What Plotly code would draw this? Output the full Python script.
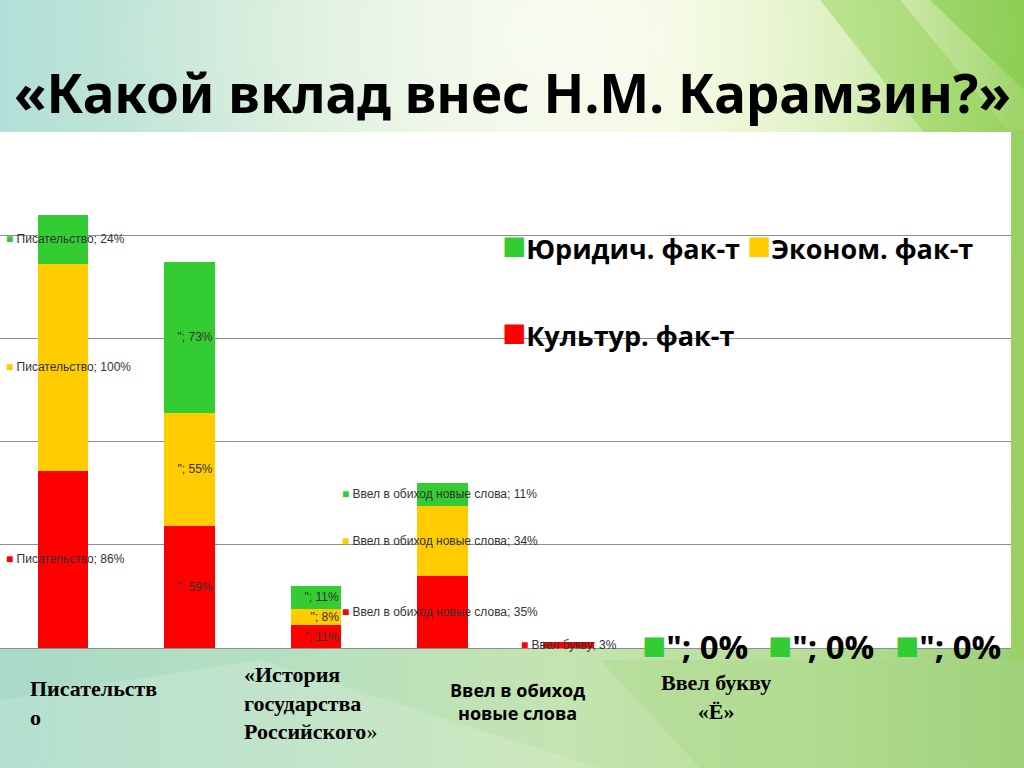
import base64
import plotly.graph_objects as go

# ---------------- data ----------------
categories = ["Писательство", "«История государства Российского»",
              "Ввел в обиход новые слова", "Ввел букву «Ё»", "", "", "", ""]
label_names = ["Писательство", '"', '"', "Ввел в обиход новые слова",
               "Ввел букву", '"', '"', '"']
cultural = [86, 59, 11, 35, 3, 0, 0, 0]     # Культур. фак-т
economic = [100, 55, 8, 34, 0, 0, 0, 0]     # Эконом. фак-т
legal = [24, 73, 11, 11, 0, 0, 0, 0]        # Юридич. фак-т
series_names = ["Культур. фак-т", "Эконом. фак-т", "Юридич. фак-т"]
y_ticks = [0, 50, 100, 150, 200, 250]

# ---------------- styles ----------------
RED, YELLOW, GREEN = "#FF0000", "#FFCC00", "#33CC33"
colors = [RED, YELLOW, GREEN]
W, H = 1024, 768
PLOT_L, PLOT_R, PLOT_T, PLOT_B = 0, 1011, 132, 648

# label placement per category: (xanchor, pixel shift from category center)
label_place = [("left", -59), ("right", 25), ("right", 25), ("left", -102),
               ("left", -50), ("center", 0), ("center", 0), ("center", 0)]
big_zero_cats = [5, 6, 7]

# ---------------- background (slide) ----------------
svg = f"""<svg xmlns='http://www.w3.org/2000/svg' width='{W}' height='{H}' viewBox='0 0 {W} {H}'>
<defs>
<linearGradient id='g1' x1='0' y1='0' x2='1' y2='0'>
<stop offset='0' stop-color='#b2e0d8'/>
<stop offset='0.25' stop-color='#cde9d6'/>
<stop offset='0.5' stop-color='#eaf5d8'/>
<stop offset='0.65' stop-color='#eef7d2'/>
<stop offset='0.82' stop-color='#d2ecac'/>
<stop offset='1' stop-color='#9ed468'/>
</linearGradient>
<linearGradient id='g2' x1='0' y1='0' x2='1' y2='0'>
<stop offset='0' stop-color='#a8dac8'/>
<stop offset='0.3' stop-color='#b8e0c0'/>
<stop offset='0.55' stop-color='#c4e4b0'/>
<stop offset='0.8' stop-color='#b6de98'/>
<stop offset='1' stop-color='#9ccf78'/>
</linearGradient>
<radialGradient id='glow' cx='0.55' cy='0.05' r='0.45'>
<stop offset='0' stop-color='#ffffff' stop-opacity='0.65'/>
<stop offset='1' stop-color='#ffffff' stop-opacity='0'/>
</radialGradient>
</defs>
<rect width='{W}' height='{H}' fill='url(#g1)'/>
<rect y='620' width='{W}' height='148' fill='url(#g2)'/>
<rect width='{W}' height='{H}' fill='url(#glow)'/>
<polygon points='820,0 900,0 1024,150 1024,260' fill='#8fd050' opacity='0.45'/>
<polygon points='930,0 1024,0 1024,90' fill='#7cc840' opacity='0.5'/>
<polygon points='0,700 260,660 600,768 0,768' fill='#ffffff' opacity='0.15'/>
<polygon points='600,660 1024,660 1024,768 700,768' fill='#a6d880' opacity='0.35'/>
<polygon points='1011,130 1024,130 1024,660 1011,660' fill='#9ad064' opacity='0.9'/>
<rect x='{PLOT_L}' y='{PLOT_T}' width='{PLOT_R - PLOT_L}' height='{PLOT_B - PLOT_T}' fill='#ffffff'/>
</svg>"""
bg_uri = "data:image/svg+xml;base64," + base64.b64encode(svg.encode("utf-8")).decode()

# ---------------- figure ----------------
x_idx = list(range(len(categories)))
fig = go.Figure()
for vals, name, col in zip([cultural, economic, legal], series_names, colors):
    fig.add_trace(go.Bar(x=x_idx, y=vals, name=name, marker=dict(color=col, line=dict(width=0)),
                         width=0.4, hoverinfo="skip", showlegend=False))

annotations = []
# data labels
bases = [0] * len(categories)
for vals, col, s_idx in zip([cultural, economic, legal], colors, range(3)):
    for i, v in enumerate(vals):
        mid = bases[i] + v / 2
        bases[i] += v
        anchor, shift = label_place[i]
        if i in big_zero_cats:
            if s_idx != 2:
                continue
            text = (f"<span style='color:{col};font-size:40px'>■</span>"
                    f"<b>{label_names[i]}; {v}%</b>")
            annotations.append(dict(x=i, y=mid, xref="x", yref="y", text=text,
                                    showarrow=False, xanchor="center", yanchor="middle",
                                    yshift=5,
                                    font=dict(family="Open Sans, Noto Sans", size=33, color="#000000")))
            continue
        if v <= 0:
            continue
        text = f"<span style='color:{col}'>■</span> {label_names[i]}; {v}%"
        annotations.append(dict(x=i, y=mid, xref="x", yref="y", text=text, showarrow=False,
                                xanchor=anchor, xshift=shift, yanchor="middle",
                                font=dict(family="Liberation Sans, Arial", size=12, color="#333333")))

# title
annotations.append(dict(x=512, y=92, text="<b>«Какой вклад внес Н.М. Карамзин?»</b>",
                        showarrow=False, xanchor="center", yanchor="middle",
                        font=dict(family="Noto Sans, Open Sans", size=53, color="#000000")))

# legend (custom rows)
leg_font = dict(family="Open Sans, Noto Sans", size=27, color="#000000")
annotations.append(dict(x=500, y=243, text=f"<span style='color:{GREEN};font-size:40px'>■</span><b>{series_names[2]}</b> "
                                            f"<span style='color:{YELLOW};font-size:40px'>■</span><b>{series_names[1]}</b>",
                        showarrow=False, xanchor="left", yanchor="middle", font=leg_font))
annotations.append(dict(x=500, y=330, text=f"<span style='color:{RED};font-size:40px'>■</span><b>{series_names[0]}</b>",
                        showarrow=False, xanchor="left", yanchor="middle", font=leg_font))

# category captions below the chart
serif = dict(family="Liberation Serif, DejaVu Serif", size=22, color="#000000")
sans = dict(family="Open Sans, Noto Sans", size=18, color="#000000")
annotations.append(dict(x=28, y=703, text="<b>Писательств<br>о</b>", showarrow=False,
                        xanchor="left", yanchor="middle", align="left", font=serif))
annotations.append(dict(x=242, y=703, text="<b>«История<br>государства<br>Российского</b>»", showarrow=False,
                        xanchor="left", yanchor="middle", align="left", font=serif))
annotations.append(dict(x=517, y=701, text="<b>Ввел в обиход<br>новые слова</b>", showarrow=False,
                        xanchor="center", yanchor="middle", align="center", font=sans))
annotations.append(dict(x=716, y=697, text="<b>Ввел букву<br>«Ё»</b>", showarrow=False,
                        xanchor="center", yanchor="middle", align="center", font=serif))

# convert pixel-placed paper annotations
for a in annotations:
    if a.get("xref") is None:
        a["xref"] = "paper"
        a["yref"] = "paper"
        a["x"] = a["x"] / (PLOT_R - PLOT_L) if a["x"] > 1 else a["x"]
        a["y"] = (PLOT_B - a["y"]) / (PLOT_B - PLOT_T)

fig.update_layout(
    width=W, height=H,
    margin=dict(l=PLOT_L, r=W - PLOT_R, t=PLOT_T, b=H - PLOT_B, pad=0),
    barmode="stack",
    paper_bgcolor="rgba(0,0,0,0)",
    plot_bgcolor="#FFFFFF",
    showlegend=False,
    bargap=0.6,
    xaxis=dict(range=[-0.5, len(categories) - 0.5], showgrid=False, zeroline=False,
               showticklabels=False, ticks="", showline=False, fixedrange=True),
    yaxis=dict(range=[0, 250], tickvals=y_ticks, showticklabels=False, ticks="",
               showgrid=True, gridcolor="#8f8f8f", gridwidth=1.3,
               zeroline=True, zerolinecolor="#8f8f8f", zerolinewidth=1.3, showline=False, fixedrange=True),
    annotations=annotations,
    images=[dict(source=bg_uri, xref="paper", yref="paper", x=-(PLOT_L) / (PLOT_R - PLOT_L),
                 y=(PLOT_B) / (PLOT_B - PLOT_T), sizex=W / (PLOT_R - PLOT_L), sizey=H / (PLOT_B - PLOT_T),
                 xanchor="left", yanchor="top", sizing="stretch", layer="below")],
)
fig.write_html("out.html", config={"displayModeBar": False},
               post_script="document.body.style.margin='0px';document.body.style.overflow='hidden';")
